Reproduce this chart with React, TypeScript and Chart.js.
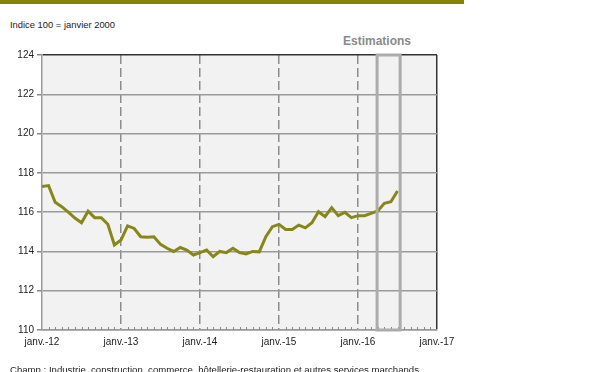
import React, { useEffect, useRef } from "react";
import { Chart, registerables } from "chart.js";

Chart.register(...registerables);

const months: string[] = [
  "2012-01","2012-02","2012-03","2012-04","2012-05","2012-06","2012-07","2012-08","2012-09","2012-10","2012-11","2012-12",
  "2013-01","2013-02","2013-03","2013-04","2013-05","2013-06","2013-07","2013-08","2013-09","2013-10","2013-11","2013-12",
  "2014-01","2014-02","2014-03","2014-04","2014-05","2014-06","2014-07","2014-08","2014-09","2014-10","2014-11","2014-12",
  "2015-01","2015-02","2015-03","2015-04","2015-05","2015-06","2015-07","2015-08","2015-09","2015-10","2015-11","2015-12",
  "2016-01","2016-02","2016-03","2016-04","2016-05","2016-06","2016-07",
];

const indexValues: number[] = [
  117.3, 117.35, 116.5, 116.28, 116.0, 115.7, 115.46, 116.05, 115.72, 115.72, 115.38, 114.33,
  114.58, 115.3, 115.17, 114.75, 114.72, 114.75, 114.36, 114.16, 114.0, 114.2, 114.07, 113.82,
  113.94, 114.07, 113.73, 114.0, 113.94, 114.16, 113.94, 113.87, 114.0, 113.98, 114.75, 115.26,
  115.38, 115.12, 115.12, 115.34, 115.2, 115.46, 116.02, 115.77, 116.23, 115.82, 115.99, 115.72,
  115.82, 115.82, 115.94, 116.06, 116.45, 116.53, 117.08,
];

const xTickLabels: string[] = ["janv.-12", "janv.-13", "janv.-14", "janv.-15", "janv.-16", "janv.-17"];

// Estimation window, in month index (0 = janv.-12)
const estimationStart = 50.9;
const estimationEnd = 54.4;

const FONT = "'Liberation Sans', Arial, sans-serif";

const decorPlugin = {
  id: "decor",
  beforeDraw(chart: any) {
    const { ctx, chartArea } = chart;
    ctx.save();
    ctx.fillStyle = "#f2f2f2";
    ctx.fillRect(chartArea.left, chartArea.top, chartArea.right - chartArea.left, chartArea.bottom - chartArea.top);
    ctx.restore();
  },
  afterDraw(chart: any) {
    const { ctx, chartArea, scales } = chart;
    const xs = scales.x;
    ctx.save();
    // minor monthly ticks
    ctx.strokeStyle = "#888";
    ctx.lineWidth = 1;
    for (let m = 1; m < 60; m++) {
      if (m % 12 === 0) continue;
      const px = Math.round(xs.getPixelForValue(m)) + 0.5;
      ctx.beginPath();
      ctx.moveTo(px, chartArea.bottom);
      ctx.lineTo(px, chartArea.bottom - 3);
      ctx.stroke();
    }
    // estimation box
    const x1 = xs.getPixelForValue(estimationStart);
    const x2 = xs.getPixelForValue(estimationEnd);
    ctx.strokeStyle = "#acacac";
    ctx.lineWidth = 3;
    ctx.strokeRect(x1, chartArea.top, x2 - x1, chartArea.bottom - chartArea.top);
    ctx.restore();
  },
};

export default function App() {
  const ref = useRef<HTMLCanvasElement | null>(null);

  useEffect(() => {
    if (!ref.current) return;
    const points = indexValues.map((v, i) => ({ x: i, y: v }));
    const chart = new Chart(ref.current, {
      type: "line",
      data: {
        labels: months,
        datasets: [
          {
            data: points as any,
            borderColor: "#878718",
            borderWidth: 3,
            pointRadius: 0,
            tension: 0,
            fill: false,
          },
        ],
      },
      options: {
        animation: false,
        responsive: false,
        maintainAspectRatio: false,
        parsing: false as any,
        layout: { padding: { top: 55, right: 163, left: 0, bottom: 0 } },
        plugins: {
          legend: { display: false },
          tooltip: { enabled: false },
          title: { display: false },
        },
        scales: {
          x: {
            type: "linear",
            min: 0,
            max: 60,
            afterFit: (s: any) => {
              s.height = 42;
            },
            ticks: {
              stepSize: 12,
              autoSkip: false,
              maxRotation: 0,
              padding: 6,
              color: "#222",
              font: { family: FONT, size: 10 },
              callback: (v: any) => xTickLabels[Math.round(Number(v) / 12)] ?? "",
            },
            grid: {
              drawTicks: false,
              color: (c: any) => {
                const v = c.tick ? c.tick.value : 0;
                if (v === 0) return "rgba(0,0,0,0)";
                if (v === 60) return "#333";
                return "#8c8c8c";
              },
              lineWidth: 1.5,
            },
            border: {
              display: true,
              color: "#999",
              width: 1.5,
              dash: (c: any) => {
                const v = c.tick ? c.tick.value : 0;
                return v === 0 || v === 60 ? [] : [9, 4];
              },
            } as any,
          },
          y: {
            min: 110,
            max: 124,
            afterFit: (s: any) => {
              s.width = 42;
            },
            ticks: {
              stepSize: 2,
              padding: 3,
              color: "#222",
              font: { family: FONT, size: 10 },
            },
            grid: {
              drawTicks: true,
              tickLength: 5,
              tickColor: "#888",
              color: (c: any) => (c.tick && c.tick.value === 124 ? "#333" : "#9a9a9a"),
              lineWidth: 1.5,
            },
            border: { display: true, color: "#999", width: 1.5 },
          },
        },
      },
      plugins: [decorPlugin],
    });
    return () => chart.destroy();
  }, []);

  return (
    <div style={{ position: "fixed", left: 0, top: 0, width: 600, height: 372, background: "#fff", overflow: "hidden", fontFamily: FONT }}>
      <div style={{ position: "absolute", left: 0, top: 0, width: 464, height: 4, background: "#848400" }} />
      <div style={{ position: "absolute", left: 10, top: 19, fontSize: 9.4, color: "#222", whiteSpace: "nowrap" }}>
        Indice 100 = janvier 2000
      </div>
      <div style={{ position: "absolute", left: 327, width: 100, textAlign: "center", top: 34, fontSize: 12, fontWeight: "bold", color: "#8a8a8a", whiteSpace: "nowrap" }}>
        Estimations
      </div>
      <canvas ref={ref} width={600} height={372} style={{ position: "absolute", left: 0, top: 0, width: 600, height: 372 }} />
      <div style={{ position: "absolute", left: 10, top: 364, fontSize: 9.6, color: "#222", whiteSpace: "nowrap" }}>
        Champ : Industrie, construction, commerce, hôtellerie-restauration et autres services marchands
      </div>
    </div>
  );
}
